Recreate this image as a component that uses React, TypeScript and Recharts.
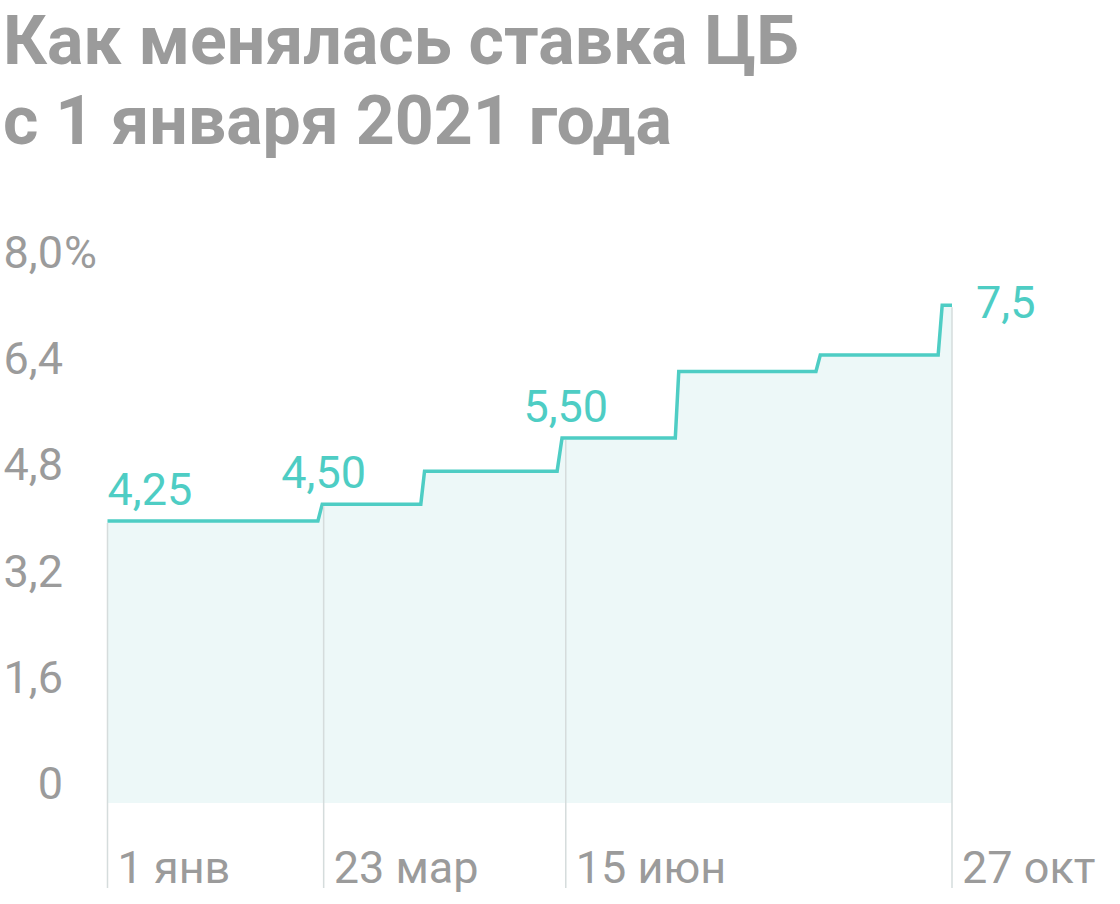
import { Area, ComposedChart, Scatter, XAxis, YAxis } from "recharts";

// days since 1 Jan 2021 (steps drawn with a short slant)
const days = [6, 79, 80.5, 114.7, 116, 162, 163.7, 203, 204.2, 251.8, 253.3, 294.2, 295.6, 299];
const rates = [4.25, 4.25, 4.5, 4.5, 5, 5, 5.5, 5.5, 6.5, 6.5, 6.75, 6.75, 7.5, 7.5];

const markerDays = [6, 81, 165, 299];
const markerRates = [4.25, 4.5, 5.5, 7.5];
const markerLabels = ["4,25", "4,50", "5,50", "7,5"];
const dateLabels = ["1 янв", "23 мар", "15 июн", "27 окт"];

const yTicks = [0, 1.6, 3.2, 4.8, 6.4, 8];
const yLabels = ["0", "1,6", "3,2", "4,8", "6,4", "8,0"];

const titleLines = ["Как менялась ставка ЦБ", "с 1 января 2021 года"];

const series = days.map((day, i) => ({ day, rate: rates[i] }));
const markers = markerDays.map((day, i) => ({ day, rate: markerRates[i], label: markerLabels[i] }));

const teal = "#4ecdc4";
const grey = "#9b9b9b";
const font = "Roboto, sans-serif";
const labelSize = 45;

function YTick(props: any) {
  const { y, payload } = props;
  const i = yTicks.indexOf(payload.value);
  return (
    <g>
      <text x={63} y={y - 4} textAnchor="end" fill={grey} fontSize={labelSize} fontFamily={font}>
        {yLabels[i]}
      </text>
      {i === yTicks.length - 1 && (
        <text x={64} y={y - 4} textAnchor="start" fill={grey} fontSize={labelSize} fontFamily={font}>
          %
        </text>
      )}
    </g>
  );
}

function XTick(props: any) {
  const { x, payload } = props;
  const i = markerDays.indexOf(payload.value);
  return (
    <text x={x + 10} y={883} fill={grey} fontSize={labelSize} fontFamily={font}>
      {dateLabels[i]}
    </text>
  );
}

function Marker(props: any) {
  const { cx, cy, index } = props;
  const last = index === markers.length - 1;
  const first = index === 0;
  return (
    <g>
      <line x1={cx} x2={cx} y1={cy + 2} y2={888} stroke="#d5dcdc" strokeWidth={1.5} />
      <text
        x={last ? cx + 24 : cx}
        y={last ? cy + 13 : cy - 16}
        textAnchor={first || last ? "start" : "middle"}
        fill={teal}
        fontSize={labelSize}
        fontFamily={font}
      >
        {markerLabels[index]}
      </text>
    </g>
  );
}

export default function App() {
  return (
    <div style={{ position: "absolute", left: 0, top: 0, width: 1120, height: 904, background: "#fff" }}>
      <div style={{ position: "absolute", left: 0, top: 0 }}>
        <ComposedChart width={1120} height={904} margin={{ top: 272, right: 168, bottom: 0, left: 0 }}>
          <XAxis
            type="number"
            dataKey="day"
            domain={[6, 299]}
            ticks={markerDays}
            tick={<XTick />}
            tickLine={false}
            axisLine={false}
            height={101}
          />
          <YAxis
            type="number"
            domain={[0, 8]}
            ticks={yTicks}
            tick={<YTick />}
            tickLine={false}
            axisLine={false}
            width={107.5}
          />
          <Area
            data={series}
            dataKey="rate"
            type="linear"
            stroke={teal}
            strokeWidth={3.5}
            fill="#edf8f8"
            fillOpacity={1}
            strokeLinejoin="miter"
            isAnimationActive={false}
          />
          <Scatter data={markers} dataKey="rate" shape={<Marker />} isAnimationActive={false} />
        </ComposedChart>
      </div>
      <div
        style={{
          position: "absolute",
          left: 3,
          top: 1,
          fontFamily: font,
          fontWeight: 700,
          fontSize: 68,
          lineHeight: "80px",
          color: grey,
          whiteSpace: "nowrap",
        }}
      >
        {titleLines.map((t) => (
          <div key={t}>{t}</div>
        ))}
      </div>
    </div>
  );
}
